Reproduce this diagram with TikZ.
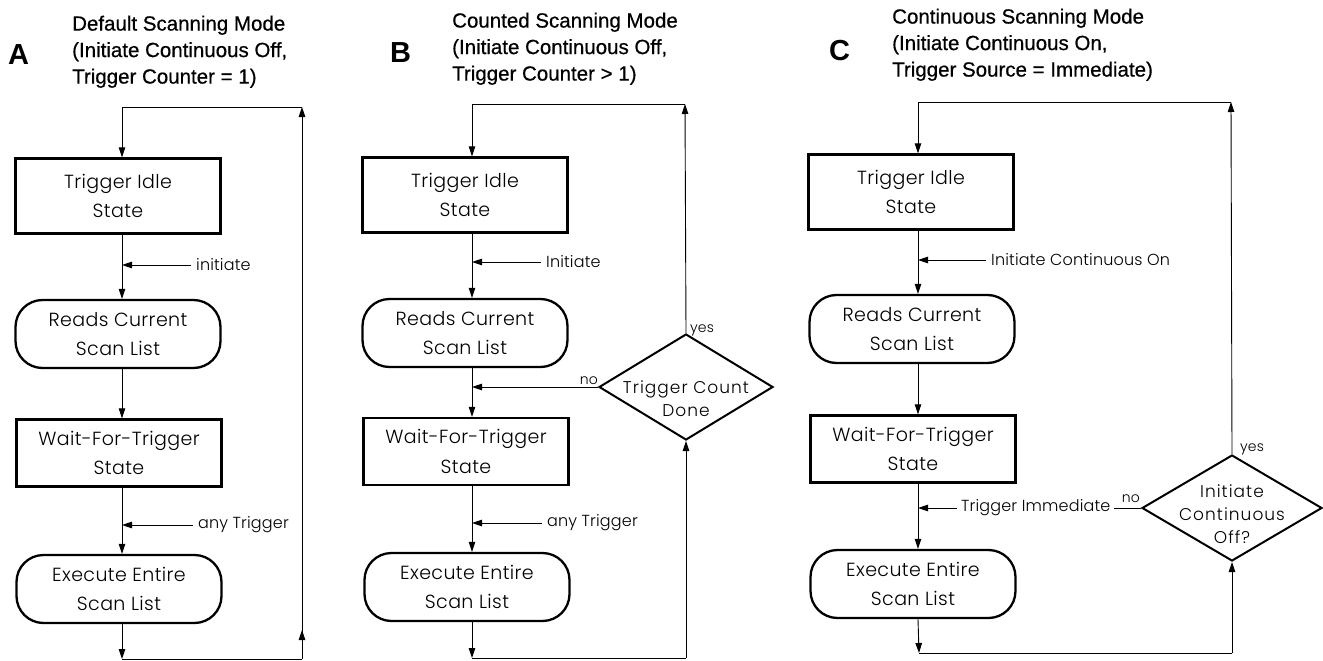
\documentclass[tikz,border=0pt]{standalone}
\usepackage{fontspec}
\setmainfont{Liberation Sans}
\newfontfamily\titlefont{Liberation Sans}[FakeBold=0.5]
\newfontfamily\cadfont{Poppins Light}[LetterSpace=2]
\newfontfamily\cadlbl{Poppins Light}[LetterSpace=1]
\newfontfamily\caddia{Poppins Light}[LetterSpace=6]
\usetikzlibrary{shapes.geometric,arrows.meta}
\begin{document}
\begin{tikzpicture}[x=1pt,y=-1pt,
  conn/.style={line width=0.9pt},
  arr/.style={-{Triangle[length=10pt,width=6.5pt]}},
  nodetxt/.style={font=\cadfont\fontsize{19}{29.5}\selectfont, align=center},
  statebox/.style={draw, line width=2.3pt, minimum width=205pt, minimum height=75pt, inner sep=0pt, nodetxt},
  ovalbox/.style={draw, line width=2.3pt, rounded corners=27pt, minimum width=205pt, minimum height=68pt, inner sep=0pt, nodetxt},
  decision/.style={draw, diamond, line width=2pt, inner sep=0pt},
  dtext/.style={font=\caddia\fontsize{17}{23}\selectfont, align=center, inner sep=0pt},
  lbl/.style={font=\cadlbl\fontsize{16}{18}\selectfont, inner xsep=5pt, inner ysep=1pt},
  small/.style={font=\cadlbl\fontsize{14}{16}\selectfont, inner sep=0pt},
  title/.style={font=\titlefont\fontsize{20.5}{26.5}\selectfont, align=left, anchor=north west, inner sep=0pt},
  letter/.style={font=\bfseries\fontsize{29}{30}\selectfont, anchor=base west, inner sep=0pt}
]
\fill[white] (0,0) rectangle (1323,661);
\useasboundingbox (0,0) rectangle (1323,661);

% ---------------- Panel A ----------------
\node[letter] (la) at (8,65) {A};
\node[title] (ta) at (72,15.5) {Default Scanning Mode\\(Initiate Continuous Off,\\Trigger Counter = 1)};
\node[statebox] (a1) at (118,196) {Trigger Idle\\State};
\node[ovalbox] (a2) at (118,334) {Reads Current\\Scan List};
\node[statebox, minimum height=67pt] (a3) at (119,453) {Wait-For-Trigger\\State};
\node[ovalbox] (a4) at (119,589) {Execute Entire\\Scan List};
\coordinate (ax) at (122,0);
\coordinate (aTL) at (122,107);
\coordinate (aTR) at (302,107);
\coordinate (aBR) at (302,659);
\coordinate (aBL) at (122,659);
\draw[conn,arr] (aTL) -- (ax |- a1.north);
\draw[conn,arr] (ax |- a1.south) -- (ax |- a2.north);
\node[lbl, anchor=west] (ai) at (191,265) {initiate};
\draw[conn,arr] (ai.west) -- (ai.west -| ax);
\draw[conn,arr] (ax |- a2.south) -- (ax |- a3.north);
\draw[conn,arr] (ax |- a3.south) -- (ax |- a4.north);
\node[lbl, anchor=west] (at) at (193,525) {any Trigger};
\draw[conn,arr] (at.west) -- (at.west -| ax);
\draw[conn,arr] (ax |- a4.south) -- (aBL);
\draw[conn] (aBL) -- (aBR);
\draw[conn,arr] (aBR) -- ++(0,-29);
\draw[conn,arr] (aBR) -- (aTR);
\draw[conn] (aTR) -- (aTL);

% ---------------- Panel B ----------------
\node[letter] (lb) at (390,63) {B};
\node[title] (tb) at (452,12.5) {Counted Scanning Mode\\(Initiate Continuous Off,\\Trigger Counter > 1)};
\node[statebox] (b1) at (465,195) {Trigger Idle\\State};
\node[ovalbox] (b2) at (465,333) {Reads Current\\Scan List};
\node[statebox, minimum height=67pt] (b3) at (466,451.5) {Wait-For-Trigger\\State};
\node[ovalbox] (b4) at (467,587) {Execute Entire\\Scan List};
\node[decision, minimum width=174pt, minimum height=106pt] (bd) at (686,387) {};
\node[dtext] (bdt) at ([yshift=-12pt]bd.center) {Trigger Count\\Done};
\coordinate (bx) at (472,0);
\coordinate (bTL) at (472,104);
\coordinate (bTR) at (685,104);
\coordinate (bBL) at (472,658);
\coordinate (bBR) at (686,658);
\draw[conn,arr] (bTL) -- (bx |- b1.north);
\draw[conn,arr] (bx |- b1.south) -- (bx |- b2.north);
\node[lbl, anchor=west] (bi) at (541,262) {Initiate};
\draw[conn,arr] (bi.west) -- (bi.west -| bx);
\draw[conn,arr] (bx |- b2.south) -- (bx |- b3.north);
\draw[conn,arr] (bd.west) -- (bd.west -| bx);
\node[small, anchor=base east] (bno) at (598,384) {no};
\draw[conn,arr] (bx |- b3.south) -- (bx |- b4.north);
\node[lbl, anchor=west] (bt) at (542,523) {any Trigger};
\draw[conn,arr] (bt.west) -- (bt.west -| bx);
\draw[conn,arr] (bx |- b4.south) -- (bBL);
\draw[conn] (bBL) -- (bBR);
\draw[conn,arr] (bBR) -- (bd.south);
\draw[conn,arr] (bd.north) -- (bTR);
\draw[conn] (bTR) -- (bTL);
\node[small, anchor=base west] (byes) at (690,332) {yes};

% ---------------- Panel C ----------------
\node[letter] (lc) at (829,61) {C};
\node[title] (tc) at (892,8.5) {Continuous Scanning Mode\\(Initiate Continuous On,\\Trigger Source = Immediate)};
\node[statebox] (c1) at (911,192) {Trigger Idle\\State};
\node[ovalbox] (c2) at (912,329) {Reads Current\\Scan List};
\node[statebox, minimum height=67pt] (c3) at (913,449) {Wait-For-Trigger\\State};
\node[ovalbox] (c4) at (913,584) {Execute Entire\\Scan List};
\node[decision, minimum width=180pt, minimum height=106pt] (cd) at (1232,508) {};
\node[dtext] (cdt) at ([yshift=-6pt]cd.center) {Initiate\\Continuous\\Off?};
\coordinate (cx) at (918,0);
\coordinate (cTL) at (918,102);
\coordinate (cTR) at (1231,102);
\coordinate (cBL) at (919,653);
\coordinate (cBR) at (1232,653);
\draw[conn,arr] (cTL) -- (cx |- c1.north);
\draw[conn,arr] (cx |- c1.south) -- (cx |- c2.north);
\node[lbl, anchor=west] (ci) at (986,260) {Initiate Continuous On};
\draw[conn,arr] (ci.west) -- (ci.west -| cx);
\draw[conn,arr] (cx |- c2.south) -- (cx |- c3.north);
\draw[conn,arr] (cx |- c3.south) -- (cx |- c4.north);
\draw[conn,arr] (cd.west) -- (cd.west -| cx);
\node[lbl, fill=white, anchor=west, inner xsep=4pt] (cti) at (957,508) {Trigger Immediate};
\node[small, anchor=base east] (cno) at (1140,502) {no};
\draw[conn,arr] (cx |- c4.south) -- (cBL);
\draw[conn] (cBL) -- (cBR);
\draw[conn,arr] (cBR) -- (cd.south);
\draw[conn,arr] (cd.north) -- (cTR);
\draw[conn] (cTR) -- (cTL);
\node[small, anchor=base west] (cyes) at (1240,451) {yes};
\end{tikzpicture}
\end{document}
